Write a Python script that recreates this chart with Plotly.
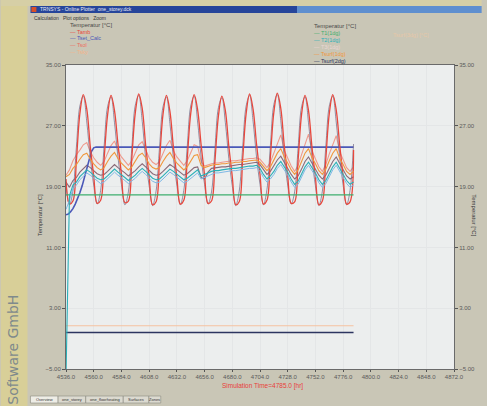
import plotly.graph_objects as go

# ---------------- data ----------------
time_h = list(range(4536, 4788, 3))  # 3-hour sampling, 4536 .. 4785 hr

tamb = [
    20.0, 16.7, 17.1, 22.4, 28.6, 31.1, 29.2, 24.3,
    20.4, 16.8, 17.2, 22.6, 28.4, 31.0, 29.0, 24.6,
    20.6, 16.9, 17.1, 22.8, 28.7, 31.2, 29.3, 24.4,
    20.3, 16.6, 17.0, 22.5, 28.5, 31.0, 28.9, 24.2,
    20.2, 16.7, 17.2, 22.7, 28.6, 31.1, 29.1, 24.5,
    20.5, 16.8, 17.1, 22.4, 28.3, 30.9, 29.0, 24.3,
    20.3, 16.6, 17.0, 22.6, 28.6, 31.2, 29.2, 24.6,
    20.6, 16.7, 17.2, 22.9, 28.8, 31.3, 29.3, 24.4,
    20.4, 16.8, 17.0, 22.5, 28.5, 31.0, 29.0, 24.2,
    20.2, 16.6, 17.1, 22.7, 28.6, 31.1, 29.1, 24.5,
    20.3, 16.7, 17.0, 23.8,
]
tamb_gray = [
    19.4, 16.6, 18.4, 24.2, 29.6, 30.9, 27.5, 22.8,
    19.2, 16.7, 18.5, 24.3, 29.5, 30.8, 27.4, 22.9,
    19.3, 16.6, 18.3, 24.1, 29.7, 31.0, 27.6, 22.7,
    19.1, 16.5, 18.4, 24.2, 29.5, 30.8, 27.3, 22.8,
    19.2, 16.6, 18.5, 24.3, 29.6, 30.9, 27.5, 22.9,
    19.3, 16.7, 18.3, 24.0, 29.4, 30.7, 27.4, 22.7,
    19.1, 16.5, 18.4, 24.2, 29.6, 31.0, 27.6, 22.9,
    19.3, 16.6, 18.6, 24.4, 29.8, 31.1, 27.7, 22.8,
    19.2, 16.7, 18.3, 24.1, 29.5, 30.8, 27.4, 22.7,
    19.1, 16.5, 18.4, 24.3, 29.6, 30.9, 27.5, 22.9,
    19.2, 16.6, 18.5, 24.6,
]
tset_t = [4536, 4538, 4540, 4542, 4544, 4546, 4548, 4550, 4552, 4554, 4556, 4558, 4560, 4562, 4785]
tset_v = [15.3, 15.4, 15.7, 16.1, 16.7, 17.4, 18.2, 19.1, 20.2, 21.4, 22.6, 23.6, 24.1, 24.2, 24.2]

t1_t = [4536, 4785]
t1_v = [17.9, 17.9]
tsurf2_t = [4536, 4785]
tsurf2_v = [-0.2, -0.2]
tsky_t = [4536, 4785]
tsky_v = [0.7, 0.7]

t2 = [
    -6.0, 17.8, 19.2, 19.6, 20.3, 20.8, 21.2, 20.9,
    20.5, 20.1, 19.9, 20.0, 20.4, 20.9, 21.3, 20.9,
    20.6, 20.2, 19.8, 20.1, 20.5, 21.0, 21.4, 21.0,
    20.5, 20.1, 19.9, 20.0, 20.4, 20.9, 21.3, 21.0,
    20.6, 20.2, 19.9, 20.1, 20.5, 20.9, 21.2, 20.4,
    20.6, 20.9, 21.0, 21.1, 21.1, 21.2, 21.3, 21.3,
    21.4, 21.4, 21.5, 21.5, 21.6, 21.7, 21.7, 21.8,
    21.4, 20.6, 20.0, 20.4, 21.0, 21.8, 22.3, 21.6,
    20.9, 20.0, 19.3, 19.7, 20.6, 21.6, 22.2, 21.5,
    20.8, 19.9, 19.3, 19.8, 20.7, 21.6, 22.2, 21.4,
    20.7, 19.8, 19.3, 19.6,
]
t3 = [
    16.0, 17.2, 18.7, 19.2, 19.9, 20.4, 20.8, 20.5,
    20.1, 19.7, 19.4, 19.6, 20.0, 20.5, 20.9, 20.5,
    20.2, 19.8, 19.4, 19.7, 20.1, 20.6, 21.0, 20.6,
    20.1, 19.7, 19.5, 19.6, 20.0, 20.5, 20.9, 20.6,
    20.2, 19.8, 19.5, 19.7, 20.1, 20.5, 20.8, 20.0,
    20.2, 20.5, 20.7, 20.8, 20.8, 20.9, 21.0, 21.0,
    21.1, 21.1, 21.2, 21.2, 21.3, 21.4, 21.4, 21.5,
    21.0, 20.2, 19.6, 20.0, 20.6, 21.4, 21.9, 21.2,
    20.5, 19.6, 18.9, 19.3, 20.2, 21.2, 21.8, 21.1,
    20.4, 19.5, 18.9, 19.4, 20.3, 21.2, 21.8, 21.0,
    20.3, 19.4, 18.9, 19.2,
]
tzone = [
    19.6, 18.9, 19.8, 20.2, 20.9, 21.4, 21.8, 21.5,
    21.1, 20.7, 20.5, 20.6, 21.0, 21.5, 21.9, 21.5,
    21.2, 20.8, 20.4, 20.7, 21.1, 21.6, 22.0, 21.6,
    21.1, 20.7, 20.5, 20.6, 21.0, 21.5, 21.9, 21.6,
    21.2, 20.8, 20.5, 20.7, 21.1, 21.5, 21.6, 20.2,
    20.0, 20.9, 21.4, 21.5, 21.5, 21.6, 21.6, 21.7,
    21.8, 21.8, 21.9, 21.9, 22.0, 22.1, 22.1, 22.2,
    21.9, 21.2, 20.6, 21.0, 21.7, 22.5, 23.0, 22.2,
    21.5, 20.6, 20.0, 20.4, 21.3, 22.3, 22.9, 22.1,
    21.4, 20.5, 20.0, 20.5, 21.4, 22.3, 22.9, 22.0,
    21.3, 20.4, 20.0, 20.3,
]
tsurf1 = [
    20.3, 20.6, 21.4, 21.9, 22.6, 23.2, 23.4, 22.6,
    22.0, 21.5, 21.2, 21.5, 22.3, 23.0, 23.5, 22.7,
    22.1, 21.6, 21.2, 21.6, 22.4, 23.1, 23.4, 22.8,
    22.0, 21.5, 21.3, 21.5, 22.3, 23.0, 23.5, 22.7,
    22.1, 21.6, 21.2, 21.6, 22.4, 23.1, 23.2, 21.8,
    21.5, 21.7, 21.8, 21.9, 21.9, 22.0, 22.0, 22.1,
    22.1, 22.2, 22.2, 22.3, 22.3, 22.4, 22.5, 22.5,
    22.2, 21.6, 21.1, 21.6, 22.5, 23.4, 24.0, 22.9,
    22.1, 21.2, 20.6, 21.2, 22.3, 23.4, 24.0, 22.8,
    22.0, 21.1, 20.6, 21.3, 22.4, 23.4, 24.0, 22.7,
    21.9, 21.0, 20.6, 21.0,
]
tsol = [
    20.5, 21.2, 22.4, 23.2, 23.8, 24.5, 24.8, 23.6,
    22.8, 22.2, 21.8, 22.3, 23.4, 24.4, 25.0, 23.7,
    22.9, 22.3, 21.8, 22.4, 23.5, 24.5, 24.9, 23.8,
    22.8, 22.2, 21.9, 22.3, 23.4, 24.4, 25.1, 23.7,
    22.9, 22.3, 21.8, 22.4, 23.5, 24.5, 24.3, 22.3,
    21.7, 21.9, 22.0, 22.1, 22.1, 22.2, 22.3, 22.3,
    22.4, 22.4, 22.5, 22.5, 22.6, 22.7, 22.7, 22.8,
    22.6, 22.0, 21.5, 22.2, 23.4, 24.6, 25.8, 23.8,
    22.7, 21.7, 21.0, 21.8, 23.2, 24.6, 25.9, 23.7,
    22.6, 21.6, 21.0, 21.9, 23.3, 24.6, 25.7, 23.6,
    22.5, 21.5, 21.0, 21.6,
]

x_ticks = list(range(4536, 4873, 24))
y_ticks = [-5, 3, 11, 19, 27, 35]

left_names = ["Tamb", "Tset_Calc", "Tsol", "Tsky"]
left_colors = ["#e8473c", "#4a58b8", "#ec6e62", "#f4b48a"]
right_names = ["T1(1dg)", "T2(1dg)", "T3(1dg)", "Tsurf(1dg)", "Tsurf(2dg)"]
right_colors = ["#3eae6e", "#2ab0b8", "#e9d6d4", "#f0973c", "#2c3560"]

# ---------------- figure ----------------
W, H = 487, 406
L, R, T, B = 66, 459, 65, 369


def px(x):
    return (x - L) / (R - L)


def py(y):
    return (B - y) / (B - T)


fig = go.Figure()


def add(x, y, color, name, axis="y", width=1.1, shape="linear"):
    fig.add_trace(go.Scatter(x=x, y=y, mode="lines", name=name, yaxis=axis,
                             line=dict(color=color, width=width, shape=shape),
                             showlegend=False, hoverinfo="skip"))


add(tsky_t, tsky_v, "#f6c2a0", "Tsky")
add(tsurf2_t, tsurf2_v, "#2c3560", "Tsurf(2dg)", "y2", 1.4)
add(t1_t, t1_v, "#3eae6e", "T1(1dg)", "y2", 1.3)
add(time_h, t3, "#7fb8e6", "T3(1dg)", "y2", 1.0)
add(time_h, t2, "#2ab0b8", "T2(1dg)", "y2", 1.1)
add(time_h, tzone, "#8a6a78", "Tzone", "y", 1.1)
add(time_h, tsurf1, "#f0973c", "Tsurf(1dg)", "y2", 1.1)
add(time_h, tsol, "#ef9a8c", "Tsol", "y", 1.1)
add(tset_t, tset_v, "#4a58b8", "Tset_Calc", "y", 1.6)
add(time_h, tamb_gray, "rgba(110,100,130,0.7)", "Tamb2", "y", 1.0, "spline")
add(time_h, tamb, "#e8473c", "Tamb", "y", 1.3, "spline")

axis_font = dict(family="Liberation Sans, Arial, sans-serif", size=6, color="#5a5a5a")
common_y = dict(range=[-5, 35], tickvals=y_ticks, tickformat=".2f", ticks="outside",
                ticklen=3, tickcolor="#555", showline=True, linecolor="#6a6a6a",
                linewidth=1, zeroline=False, tickfont=axis_font, fixedrange=True)

fig.update_layout(
    width=W, height=H, autosize=False,
    margin=dict(l=L, r=W - R, t=T, b=H - B, pad=0),
    paper_bgcolor="#c9c6b6",
    plot_bgcolor="#eceeee",
    font=dict(family="Liberation Sans, Arial, sans-serif"),
    xaxis=dict(range=[4536, 4872], tickvals=x_ticks, tickformat=".1f", ticks="outside",
               ticklen=2, tickcolor="#555", showline=True, mirror=True,
               linecolor="#6a6a6a", linewidth=1, showgrid=True, gridcolor="#e4e6e7",
               zeroline=False, tickfont=axis_font, fixedrange=True),
    yaxis=dict(side="left", mirror=True, showgrid=True, gridcolor="#e4e6e7", **common_y),
    yaxis2=dict(side="right", overlaying="y", showgrid=False, **common_y),
)

shapes = []
# yellow magazine strip on the left and at the very top
shapes.append(dict(type="rect", xref="paper", yref="paper", x0=px(0), x1=px(27), y0=py(406), y1=py(0),
                   fillcolor="#d8cf98", line=dict(width=0), layer="below"))
shapes.append(dict(type="rect", xref="paper", yref="paper", x0=px(0), x1=px(487), y0=py(6), y1=py(0),
                   fillcolor="#d6cfa6", line=dict(width=0), layer="below"))
# title bar
shapes.append(dict(type="rect", xref="paper", yref="paper", x0=px(30), x1=px(300), y0=py(13), y1=py(6),
                   fillcolor="#26459a", line=dict(width=0), layer="below"))
shapes.append(dict(type="rect", xref="paper", yref="paper", x0=px(300), x1=px(487), y0=py(13), y1=py(6),
                   fillcolor="#5f8fcf", line=dict(width=0), layer="below"))
shapes.append(dict(type="rect", xref="paper", yref="paper", x0=px(31), x1=px(36), y0=py(12), y1=py(7),
                   fillcolor="#d8502a", line=dict(width=0), layer="below"))
# tab strip at the bottom
tabs = ["Overview", "one_storey", "one_floorheating", "Surfaces", "Zones"]
tab_x = [30, 58, 86, 124, 150]
tab_w = [28, 28, 38, 26, 12]
for i, (x0, w) in enumerate(zip(tab_x, tab_w)):
    shapes.append(dict(type="rect", xref="paper", yref="paper", x0=px(x0), x1=px(x0 + w),
                       y0=py(403), y1=py(396), fillcolor="#dcdad0" if i else "#eeede6",
                       line=dict(width=0.6, color="#8a8a80"), layer="below"))
fig.update_layout(shapes=shapes)

ann = []
small = "Liberation Sans, Arial, sans-serif"


def note(x, y, text, size, color, xanchor="left", angle=0, family=small):
    ann.append(dict(x=px(x), y=py(y), xref="paper", yref="paper", text=text, showarrow=False,
                    xanchor=xanchor, yanchor="middle", textangle=angle,
                    font=dict(size=size, color=color, family=family)))


note(38, 9.5, "TRNSYS - Online Plotter  one_storey.dck", 5, "#e8ecf5")
note(32, 18, "Calculation   Plot options   Zoom", 5, "#333")
for name, x0, w in zip(tabs, tab_x, tab_w):
    note(x0 + w / 2, 399.5, name, 4, "#333", "center")

# legend blocks
note(68, 25, "Temperatur [°C]", 6, "#4a4a4a")
for i, (n, c) in enumerate(zip(left_names, left_colors)):
    note(68, 32 + 6.5 * i, "— " + n, 5.5, c)
note(315, 26, "Temperatur [°C]", 6, "#4a4a4a")
for i, (n, c) in enumerate(zip(right_names, right_colors)):
    note(315, 33 + 7 * i, "— " + n, 5.5, c)
note(395, 35, "Tsurf(3dg) [°C]", 5.5, "#e6c6a8")

# axis titles
note(40, 215, "Temperatur [°C]", 6, "#3a3a3a", "center", -90)
note(479, 215, "Temperatur [°C]", 6, "#3a3a3a", "center", 90)
note(265, 386, "Simulation Time=4785.0 [hr]", 6.5, "#e8403a", "center")
# magazine text on the left strip
note(12, 350, "Software GmbH", 14, "#7f8a8c", "center", -90, "DejaVu Sans, sans-serif")
fig.update_layout(annotations=ann)

fig.write_html("out.html", config={"displayModeBar": False, "staticPlot": True},
               post_script="document.body.style.margin='0px';document.body.style.overflow='hidden';")
